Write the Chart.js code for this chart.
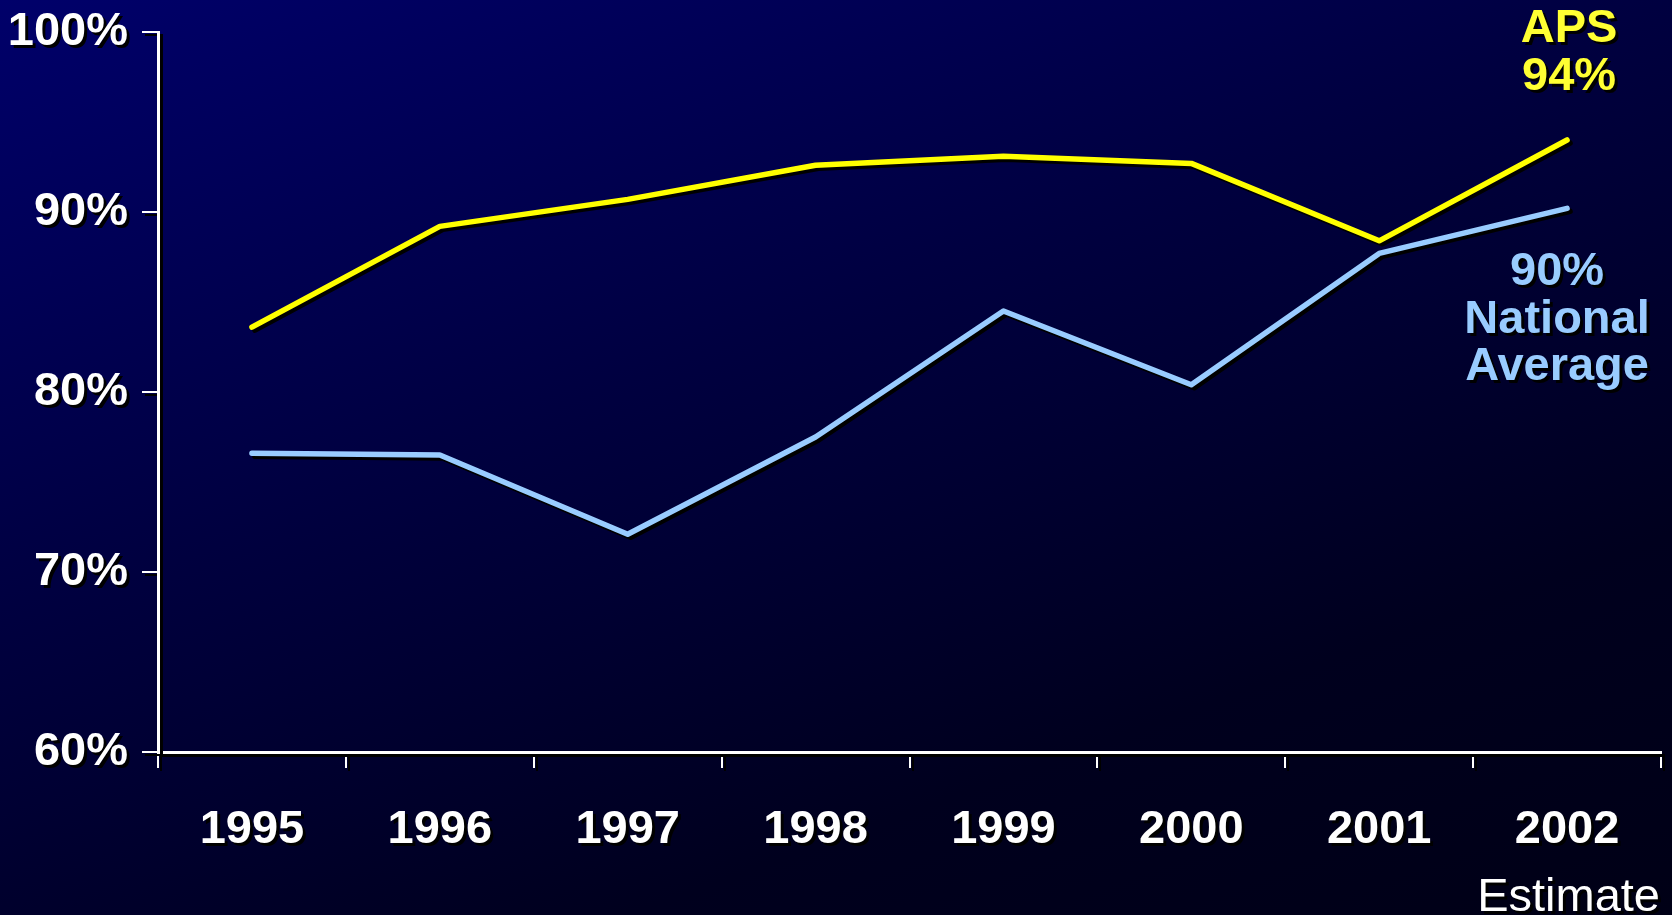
<!doctype html>
<html lang="en">

<head>
  <meta charset="UTF-8">
  <title>APS vs National Average</title>
  <style>
    html,
    body {
      margin: 0;
      padding: 0;
      width: 1672px;
      height: 915px;
      overflow: hidden;
      background: linear-gradient(160deg, #00006a 0%, #000040 40%, #00001e 75%, #000016 100%);
    }

    #wrap {
      position: relative;
      width: 1672px;
      height: 915px;
    }
  </style>
</head>

<body>
  <div id="wrap">
    <canvas id="datavis" width="1672" height="915"></canvas>
  </div>

  <script src="https://cdn.jsdelivr.net/npm/chart.js@4.4.1/dist/chart.umd.min.js"></script>

  <script>
    const years = ['1995', '1996', '1997', '1998', '1999', '2000', '2001', '2002'];
    const apsValues = [83.6, 89.2, 90.7, 92.6, 93.1, 92.7, 88.4, 94.0];
    const nationalValues = [76.6, 76.5, 72.1, 77.5, 84.5, 80.4, 87.7, 90.2];
    const apsLabel = ['APS', '94%'];
    const nationalLabel = ['90%', 'National', 'Average'];

    const font = "'Liberation Sans', Arial, sans-serif";

    // black drop shadow on everything drawn, like the slide
    const shadowPlugin = {
      id: 'shadow',
      beforeDraw(chart) {
        const ctx = chart.ctx;
        ctx.save();
        ctx.shadowColor = 'rgba(0,0,0,1)';
        ctx.shadowOffsetX = 3;
        ctx.shadowOffsetY = 3;
        ctx.shadowBlur = 0;
      },
      afterDraw(chart) {
        const ctx = chart.ctx;
        const x = chart.scales.x.getPixelForValue(years.length - 1);
        ctx.textAlign = 'center';
        ctx.textBaseline = 'middle';

        ctx.font = 'bold 47px ' + font;
        ctx.fillStyle = '#ffff33';
        ctx.fillText(apsLabel[0], x + 2, 29);
        ctx.fillText(apsLabel[1], x + 2, 77);

        ctx.fillStyle = '#99ccff';
        ctx.fillText(nationalLabel[0], x - 10, 272);
        ctx.fillText(nationalLabel[1], x - 10, 320);
        ctx.fillText(nationalLabel[2], x - 10, 367);

        ctx.font = '47px ' + font;
        ctx.fillStyle = '#ffffff';
        ctx.textAlign = 'right';
        ctx.fillText('Estimate', 1660, 898);
        ctx.restore();
      }
    };

    document.addEventListener('DOMContentLoaded', function () {
      draw();
    });

    function draw() {
      new Chart('datavis', {
        type: 'line',
        data: {
          labels: years,
          datasets: [{
            label: 'APS',
            data: apsValues,
            borderColor: '#ffff00',
            borderWidth: 5.5,
            pointRadius: 0,
            tension: 0,
            borderCapStyle: 'round',
            borderJoinStyle: 'round'
          }, {
            label: 'National Average',
            data: nationalValues,
            borderColor: '#99ccff',
            borderWidth: 5.5,
            pointRadius: 0,
            tension: 0,
            borderCapStyle: 'round',
            borderJoinStyle: 'round'
          }]
        },
        options: {
          responsive: false,
          animation: false,
          layout: {
            padding: { top: 32, right: 11, left: 0, bottom: 0 }
          },
          plugins: {
            legend: { display: false },
            tooltip: { enabled: false }
          },
          scales: {
            x: {
              offset: true,
              grid: {
                offset: true,
                drawOnChartArea: false,
                color: '#ffffff',
                lineWidth: 2,
                tickLength: 16
              },
              border: { color: '#ffffff', width: 3 },
              ticks: {
                color: '#ffffff',
                font: { family: font, size: 47, weight: 'bold' },
                padding: 34,
                maxRotation: 0
              },
              afterFit(scale) {
                scale.height = 163;
                scale.paddingLeft = 0;
                scale.paddingRight = 0;
              }
            },
            y: {
              min: 60,
              max: 100,
              grid: {
                drawOnChartArea: false,
                color: '#ffffff',
                lineWidth: 2,
                tickLength: 16
              },
              border: { color: '#ffffff', width: 3 },
              ticks: {
                stepSize: 10,
                color: '#ffffff',
                font: { family: font, size: 47, weight: 'bold' },
                padding: 14,
                callback: (v) => v + '%'
              },
              afterFit(scale) {
                scale.width = 158;
                scale.paddingTop = 0;
                scale.paddingBottom = 0;
              }
            }
          }
        },
        plugins: [shadowPlugin]
      });
    }
  </script>
</body>

</html>
